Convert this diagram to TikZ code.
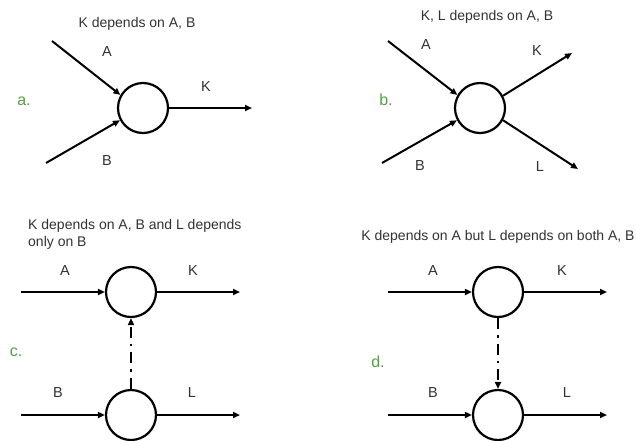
\documentclass[tikz,border=0pt]{standalone}
\usepackage{fontspec}
\setmainfont{Liberation Sans}
\usetikzlibrary{arrows.meta}
\definecolor{lblgreen}{RGB}{80,165,60}
\definecolor{txtgray}{RGB}{50,50,50}
\tikzset{
  proc/.style={circle,draw=black,line width=2.2pt,minimum size=50pt,inner sep=0pt},
  flow/.style={line width=2pt,-{Triangle[length=7pt,width=6pt]}},
  dep/.style={line width=2pt,dash pattern=on 11pt off 6pt on 2.5pt off 6pt,-{Triangle[length=7pt,width=6pt]}},
  lbl/.style={font=\fontsize{14.5}{16}\selectfont,text=txtgray,inner sep=0pt},
  ttl/.style={font=\fontsize{14}{17}\selectfont,text=txtgray,inner sep=0pt},
  tag/.style={font=\fontsize{16}{18}\selectfont,text=lblgreen,inner sep=0pt}
}
\begin{document}
\begin{tikzpicture}[x=1pt,y=-1pt]
\useasboundingbox (0,0) rectangle (636,440);
% panel a
\node[ttl] (ta) at (137,24) {K depends on A, B};
\node[proc] (ca) at (143,108) {};
\coordinate (aA) at (52,41);
\coordinate (aB) at (46,163);
\coordinate (aK) at (252,108);
\draw[flow] (aA) -- (ca.150);
\draw[flow] (aB) -- (ca.208);
\draw[flow] (ca.east) -- (aK);
\node[lbl] (laA) at (107,52) {A};
\node[lbl] (laB) at (107,161) {B};
\node[lbl] (laK) at (206,87) {K};
\node[tag] (tga) at (24,101) {a.};
% panel b
\node[ttl] (tb) at (487,17) {K, L depends on A, B};
\node[proc] (cb) at (480,108) {};
\coordinate (bA) at (388,41);
\coordinate (bB) at (382,163);
\coordinate (bK) at (572,53);
\coordinate (bL) at (578,169);
\draw[flow] (bA) -- (cb.150);
\draw[flow] (bB) -- (cb.208);
\draw[flow] (cb.28) -- (bK);
\draw[flow] (cb.-28) -- (bL);
\node[lbl] (lbA) at (426,45) {A};
\node[lbl] (lbB) at (420,166) {B};
\node[lbl] (lbK) at (537,51) {K};
\node[lbl] (lbL) at (540,167) {L};
\node[tag] (tgb) at (386,100) {b.};
% panel c
\node[ttl,anchor=west,align=left] (tc) at (28,234) {K depends on A, B and L depends\\only on B};
\node[proc] (cc1) at (131,292) {};
\node[proc] (cc2) at (131,415) {};
\coordinate (cA) at (21,292);
\coordinate (cK) at (240,292);
\coordinate (cB) at (21,415);
\coordinate (cL) at (240,415);
\draw[flow] (cA) -- (cc1.west);
\draw[flow] (cc1.east) -- (cK);
\draw[flow] (cB) -- (cc2.west);
\draw[flow] (cc2.east) -- (cL);
\draw[dep] (cc2.north) -- (cc1.south);
\node[lbl] (lcA) at (65,271) {A};
\node[lbl] (lcK) at (193,271) {K};
\node[lbl] (lcB) at (58,393) {B};
\node[lbl] (lcL) at (192,393) {L};
\node[tag] (tgc) at (16,352) {c.};
% panel d
\node[ttl] (td) at (498,237) {K depends on A but L depends on both A, B};
\node[proc] (cd1) at (498,292) {};
\node[proc] (cd2) at (498,415) {};
\coordinate (dA) at (388,292);
\coordinate (dK) at (607,292);
\coordinate (dB) at (388,415);
\coordinate (dL) at (607,415);
\draw[flow] (dA) -- (cd1.west);
\draw[flow] (cd1.east) -- (dK);
\draw[flow] (dB) -- (cd2.west);
\draw[flow] (cd2.east) -- (dL);
\draw[dep] (cd1.south) -- (cd2.north);
\node[lbl] (ldA) at (433,271) {A};
\node[lbl] (ldK) at (562,271) {K};
\node[lbl] (ldB) at (433,393) {B};
\node[lbl] (ldL) at (567,393) {L};
\node[tag] (tgd) at (378,362) {d.};
\end{tikzpicture}
\end{document}
